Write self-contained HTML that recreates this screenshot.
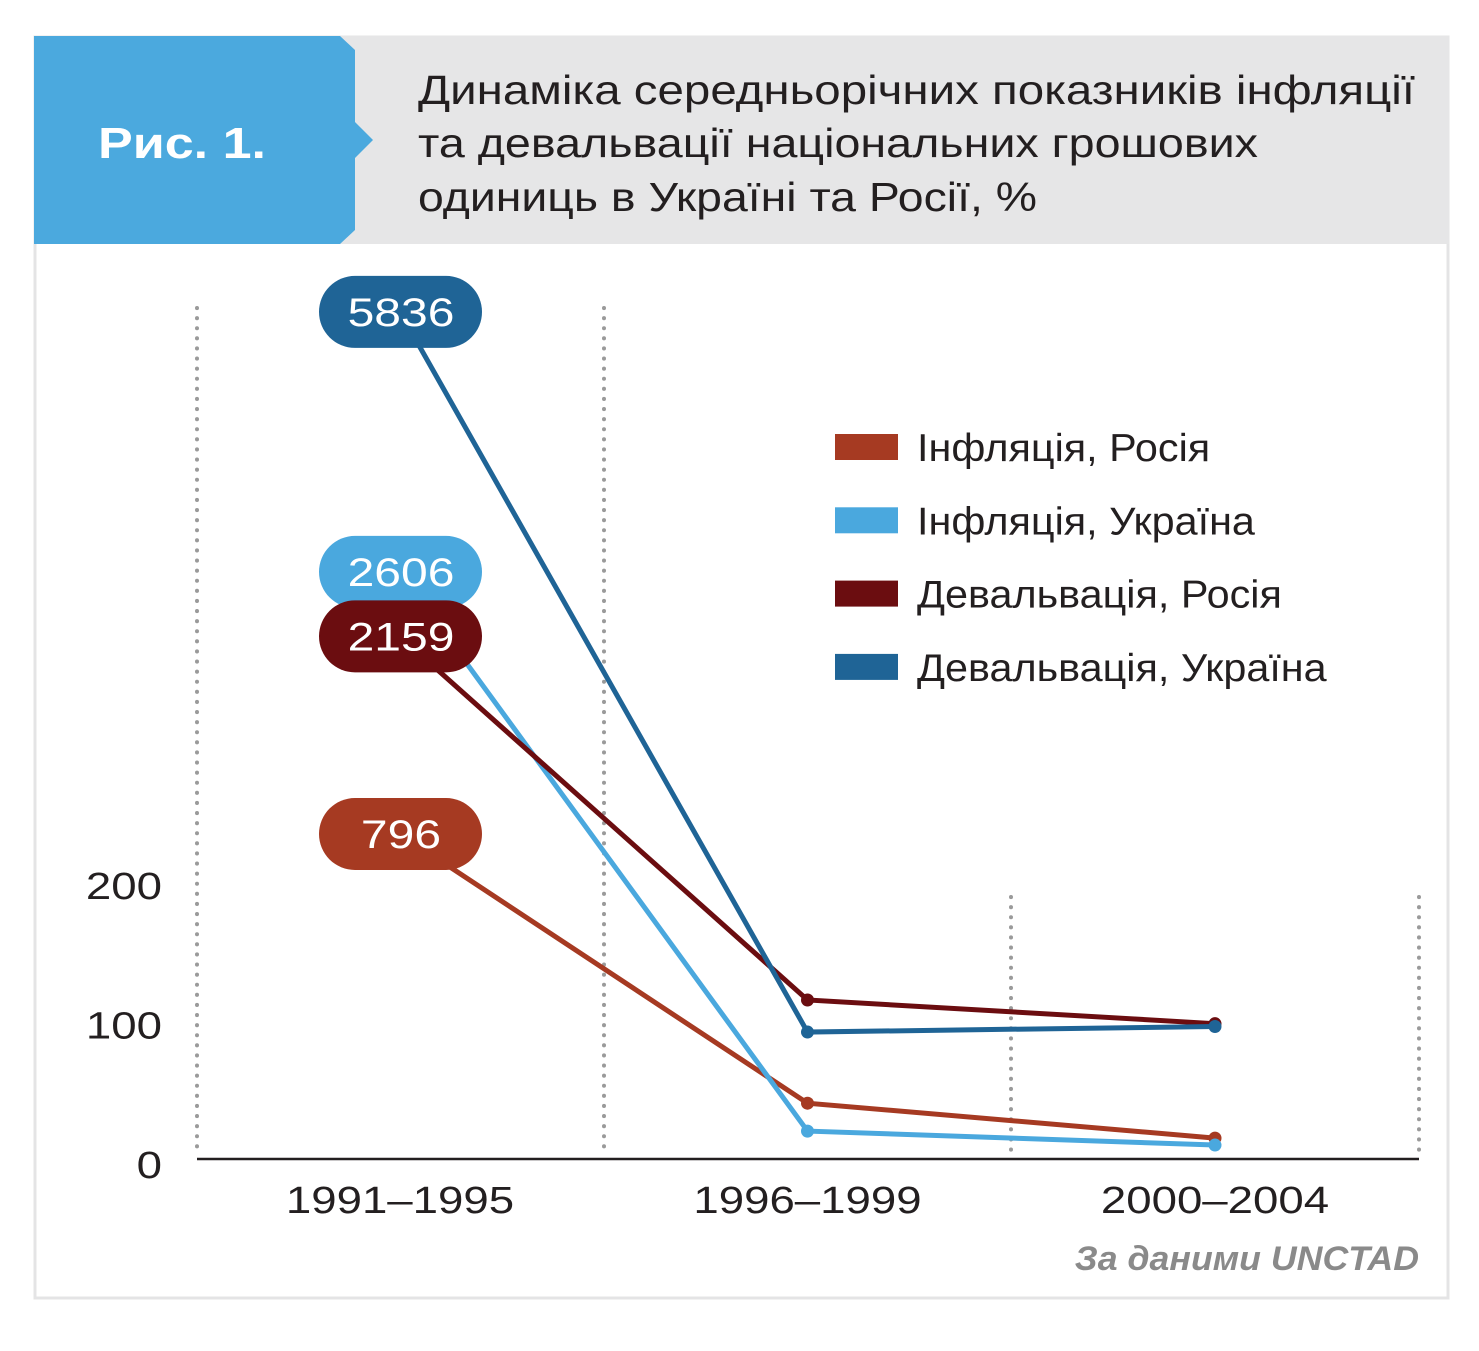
<!DOCTYPE html>
<html><head><meta charset="utf-8">
<style>
html,body{margin:0;padding:0;background:#fff;}
body{width:1479px;height:1346px;position:relative;overflow:hidden;font-family:"Liberation Sans",sans-serif;}
</style></head>
<body>
<svg width="1479" height="1346" viewBox="0 0 1479 1346" xmlns="http://www.w3.org/2000/svg">
  <rect x="35" y="37" width="1413" height="1261" fill="#fff" stroke="#e4e4e5" stroke-width="3"/>
  <rect x="34" y="36" width="1415" height="208" fill="#e6e6e7"/>
  <polygon points="34,36 340,36 355,50 355,122 373,140 355,158 355,230 340,244 34,244" fill="#4ba9de"/>
  <text x="98" y="158" fill="#fff" font-size="44" font-weight="bold" textLength="168" lengthAdjust="spacingAndGlyphs">Рис. 1.</text>
  <g font-size="41" fill="#231f20">
    <text x="418" y="104" textLength="997" lengthAdjust="spacingAndGlyphs">Динаміка середньорічних показників інфляції</text>
    <text x="418" y="157" textLength="840" lengthAdjust="spacingAndGlyphs">та девальвації національних грошових</text>
    <text x="418" y="211" textLength="619" lengthAdjust="spacingAndGlyphs">одиниць в Україні та Росії, %</text>
  </g>
  <g id="plot"></g>
</svg>
<script>
const categories = ["1991–1995","1996–1999","2000–2004"];
const seriesNames = ["Інфляція, Росія","Інфляція, Україна","Девальвація, Росія","Девальвація, Україна"];
const inflRussia = [796, 40, 15];
const inflUkraine = [2606, 20, 10];
const devRussia = [2159, 114, 97];
const devUkraine = [5836, 91, 95];
const yTicks = [0, 100, 200];
const colors = ["#a63a22","#4aa8de","#6b0d10","#1f6496"];
const series = [inflRussia, inflUkraine, devRussia, devUkraine];

const NS = "http://www.w3.org/2000/svg";
const plot = document.getElementById("plot");
function mk(tag, attrs, parent){const e=document.createElementNS(NS,tag);for(const k in attrs)e.setAttribute(k,attrs[k]);(parent||plot).appendChild(e);return e;}
function stretch(e, r){const w=e.getComputedTextLength();e.setAttribute("textLength",w*r);e.setAttribute("lengthAdjust","spacingAndGlyphs");}
const xScale = i => 400 + i*407.5;
const yLow = v => 1159 - v*1.395;
// broken upper scale for values above 200 (two compressed segments)
const yHigh = v => v <= 2600 ? 834 - (v-796)*0.145 : (834 - (2600-796)*0.145) - (v-2600)*0.0805;
const y = v => v > 200 ? yHigh(v) : yLow(v);

[197, 604].forEach(gx=>{const l=mk("line",{x1:gx,y1:308,x2:gx,y2:1150,stroke:"#9a9a9a","stroke-width":4,"stroke-dasharray":"0.1 10","stroke-linecap":"round"});

});
[1011, 1419].forEach(gx=>{const l=mk("line",{x1:gx,y1:897,x2:gx,y2:1150,stroke:"#9a9a9a","stroke-width":4,"stroke-dasharray":"0.1 10","stroke-linecap":"round"});

});
const ax = mk("line",{x1:197,y1:1159,x2:1419,y2:1159,stroke:"#231f20","stroke-width":2.5});



yTicks.forEach(t=>{const e=mk("text",{x:162,y:yLow(t)+19,"text-anchor":"end","font-size":38,fill:"#231f20"});e.textContent=t;stretch(e,1.2);

});
categories.forEach((c,i)=>{const e=mk("text",{x:xScale(i),y:1213,"text-anchor":"middle","font-size":38,fill:"#231f20"});e.textContent=c;stretch(e,1.2);

});

series.forEach((s,si)=>{
  const pts = s.map((v,i)=>xScale(i)+","+y(v)).join(" ");
  const pl = mk("polyline",{points:pts,fill:"none",stroke:colors[si],"stroke-width":5});
  
  
  s.forEach((v,i)=>{ if(i>0){const c=mk("circle",{cx:xScale(i),cy:y(v),r:6.5,fill:colors[si]});
    
    }});
});
[3,1,2,0].forEach(si=>{
  const v = series[si][0], cy = y(v), cx = xScale(0);
  const r = mk("rect",{x:cx-81,y:cy-36,width:163,height:72,rx:36,fill:colors[si]});
  
  
  const t = mk("text",{x:cx+1,y:cy+14,"text-anchor":"middle","font-size":40,fill:"#fff"});
  t.textContent = v;
  stretch(t,1.2);
  
  
});
seriesNames.forEach((n,i)=>{
  const ly = 447 + i*73.3;
  const r = mk("rect",{x:835,y:ly-13,width:63,height:26,fill:colors[i]});
  
  
  const t = mk("text",{x:917,y:ly+14,"font-size":39,fill:"#231f20"});
  t.textContent = n;
  stretch(t,1.06);
  
  
});
const src = mk("text",{x:1419,y:1270,"text-anchor":"end","font-size":34,"font-style":"italic","font-weight":"bold",fill:"#8a8a8a"});
src.textContent = "За даними UNCTAD";
stretch(src,1.05);


</script>
</body></html>
